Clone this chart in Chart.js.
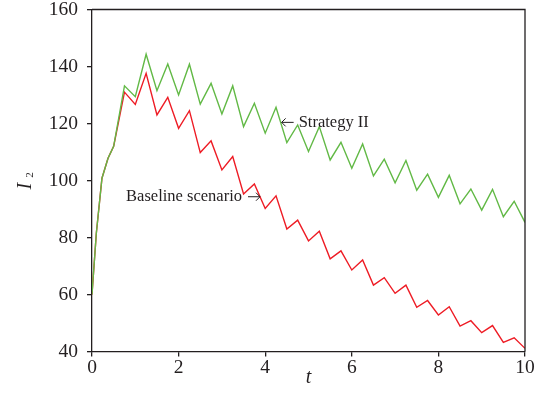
<!DOCTYPE html>
<html>
<head>
<meta charset="utf-8">
<script src="https://cdn.jsdelivr.net/npm/chart.js@4.4.1/dist/chart.umd.min.js"></script>
<style>
  html, body { margin: 0; padding: 0; background: #ffffff; }
  #wrap { width: 552px; height: 419px; position: relative; }
</style>
</head>
<body>
<div id="wrap"><canvas id="c" width="552" height="419"></canvas></div>
<script>
// ---- data ----
const tValues = [0, 0.1, 0.23, 0.37, 0.5, 0.75, 1.0, 1.25, 1.5, 1.75, 2.0, 2.25, 2.5, 2.75, 3.0, 3.25, 3.5, 3.75, 4.0, 4.25, 4.5, 4.75, 5.0, 5.25, 5.5, 5.75, 6.0, 6.25, 6.5, 6.75, 7.0, 7.25, 7.5, 7.75, 8.0, 8.25, 8.5, 8.75, 9.0, 9.25, 9.5, 9.75, 10.0];
const strategyII = [60, 81.5, 100.8, 107.8, 112, 133.2, 129.4, 144.3, 131.5, 140.9, 130, 140.8, 126.8, 134.1, 123.3, 133.2, 118.9, 127.1, 116.6, 125.7, 113.3, 119.5, 110.2, 118.9, 107.2, 113.4, 104.3, 112.8, 101.6, 107.5, 99.2, 107, 96.6, 102.2, 94.1, 101.8, 91.8, 97.0, 89.6, 96.9, 87.3, 92.7, 85.3];
const baseline = [60, 81.5, 100.8, 107.8, 112, 131, 126.7, 137.6, 123, 129.2, 118.3, 124.5, 109.8, 113.9, 103.7, 108.4, 95.3, 98.8, 90.2, 94.6, 83.0, 86.1, 78.8, 82.2, 72.5, 75.3, 68.6, 72.1, 63.3, 65.9, 60.4, 63.3, 55.5, 57.9, 52.8, 55.7, 48.9, 50.8, 46.6, 49.1, 43.2, 44.8, 41.1];
const xTicks = [0, 2, 4, 6, 8, 10];
const yTicks = [40, 60, 80, 100, 120, 140, 160];
const seriesNames = ['Strategy II', 'Baseline scenario'];
const xTitle = 't';
const yTitleMain = 'I';
const yTitleSub = '2';
// annotation anchors (arrow tip, data coordinates)
const annStrategy = { t: 4.38, y: 120.4 };
const annBaseline = { t: 3.88, y: 94.3 };

const INK = '#231f20';
const SERIF = '"Liberation Serif", "DejaVu Serif", serif';

function toXY(xs, ys) { return xs.map((x, i) => ({ x: x, y: ys[i] })); }

const framePlugin = {
  id: 'frame',
  afterDraw(chart) {
    const { ctx, chartArea: a, scales } = chart;
    ctx.save();
    ctx.strokeStyle = INK;
    ctx.lineWidth = 1.3;
    ctx.beginPath();
    ctx.moveTo(a.left, a.top); ctx.lineTo(a.right, a.top); ctx.lineTo(a.right, a.bottom);
    ctx.stroke();

    // y axis title: italic I with subscript 2, rotated
    ctx.fillStyle = INK;
    ctx.translate(31, (a.top + a.bottom) / 2);
    ctx.rotate(-Math.PI / 2);
    ctx.textBaseline = 'alphabetic';
    ctx.textAlign = 'left';
    ctx.font = 'italic 20px ' + SERIF;
    const wI = ctx.measureText(yTitleMain).width;
    ctx.fillText(yTitleMain, -9, 0);
    ctx.font = '11px ' + SERIF;
    ctx.fillText(yTitleSub, -9 + wI + 5, 2);
    ctx.restore();

    // annotations
    ctx.save();
    ctx.fillStyle = INK; ctx.strokeStyle = INK; ctx.lineWidth = 1;
    ctx.font = '16.5px ' + SERIF;
    ctx.textBaseline = 'middle';
    const sx = scales.x, sy = scales.y;
    // Strategy II: arrow pointing left
    let px = sx.getPixelForValue(annStrategy.t), py = sy.getPixelForValue(annStrategy.y);
    ctx.beginPath();
    ctx.moveTo(px, py); ctx.lineTo(px + 12, py);
    ctx.moveTo(px + 4, py - 4); ctx.lineTo(px, py); ctx.lineTo(px + 4, py + 4);
    ctx.stroke();
    ctx.textAlign = 'left';
    ctx.fillText(seriesNames[0], px + 17, py);
    // Baseline: arrow pointing right
    px = sx.getPixelForValue(annBaseline.t); py = sy.getPixelForValue(annBaseline.y);
    ctx.beginPath();
    ctx.moveTo(px, py); ctx.lineTo(px - 12, py);
    ctx.moveTo(px - 4, py - 4); ctx.lineTo(px, py); ctx.lineTo(px - 4, py + 4);
    ctx.stroke();
    ctx.textAlign = 'right';
    ctx.fillText(seriesNames[1], px - 18, py);
    ctx.restore();
  }
};

new Chart(document.getElementById('c'), {
  type: 'scatter',
  data: {
    datasets: [
      { label: seriesNames[0], data: toXY(tValues, strategyII), showLine: true, borderColor: '#62b946', borderWidth: 1.4, pointRadius: 0, tension: 0, fill: false },
      { label: seriesNames[1], data: toXY(tValues, baseline), showLine: true, borderColor: '#ee1c25', borderWidth: 1.4, pointRadius: 0, tension: 0, fill: false }
    ]
  },
  options: {
    responsive: false,
    animation: false,
    devicePixelRatio: 1,
    layout: { padding: { left: 0, right: 27, top: 9.5, bottom: 0 } },
    plugins: { legend: { display: false }, tooltip: { enabled: false } },
    scales: {
      x: {
        type: 'linear', min: 0, max: 10,
        afterBuildTicks: (s) => { s.ticks = xTicks.map(v => ({ value: v })); },
        afterFit: (s) => { s.height = 67.5; s.paddingLeft = 0; s.paddingRight = 0; },
        grid: { display: true, drawOnChartArea: false, drawTicks: true, tickLength: 5, color: INK, lineWidth: 1.3 },
        border: { display: true, color: INK, width: 1.3 },
        ticks: { color: INK, font: { family: SERIF, size: 19.5 }, padding: -0.5, maxRotation: 0 },
        title: { display: true, text: xTitle, color: INK, font: { family: SERIF, size: 20, style: 'italic' }, padding: { top: 0, bottom: 29 } }
      },
      y: {
        type: 'linear', min: 40, max: 160,
        afterBuildTicks: (s) => { s.ticks = yTicks.map(v => ({ value: v })); },
        afterFit: (s) => { s.width = 92; s.paddingTop = 0; s.paddingBottom = 0; },
        grid: { display: true, drawOnChartArea: false, drawTicks: true, tickLength: 5, color: INK, lineWidth: 1.3 },
        border: { display: true, color: INK, width: 1.3 },
        ticks: { color: INK, font: { family: SERIF, size: 19.5 }, padding: 9 },
        title: { display: false }
      }
    }
  },
  plugins: [framePlugin]
});
</script>
</body>
</html>
